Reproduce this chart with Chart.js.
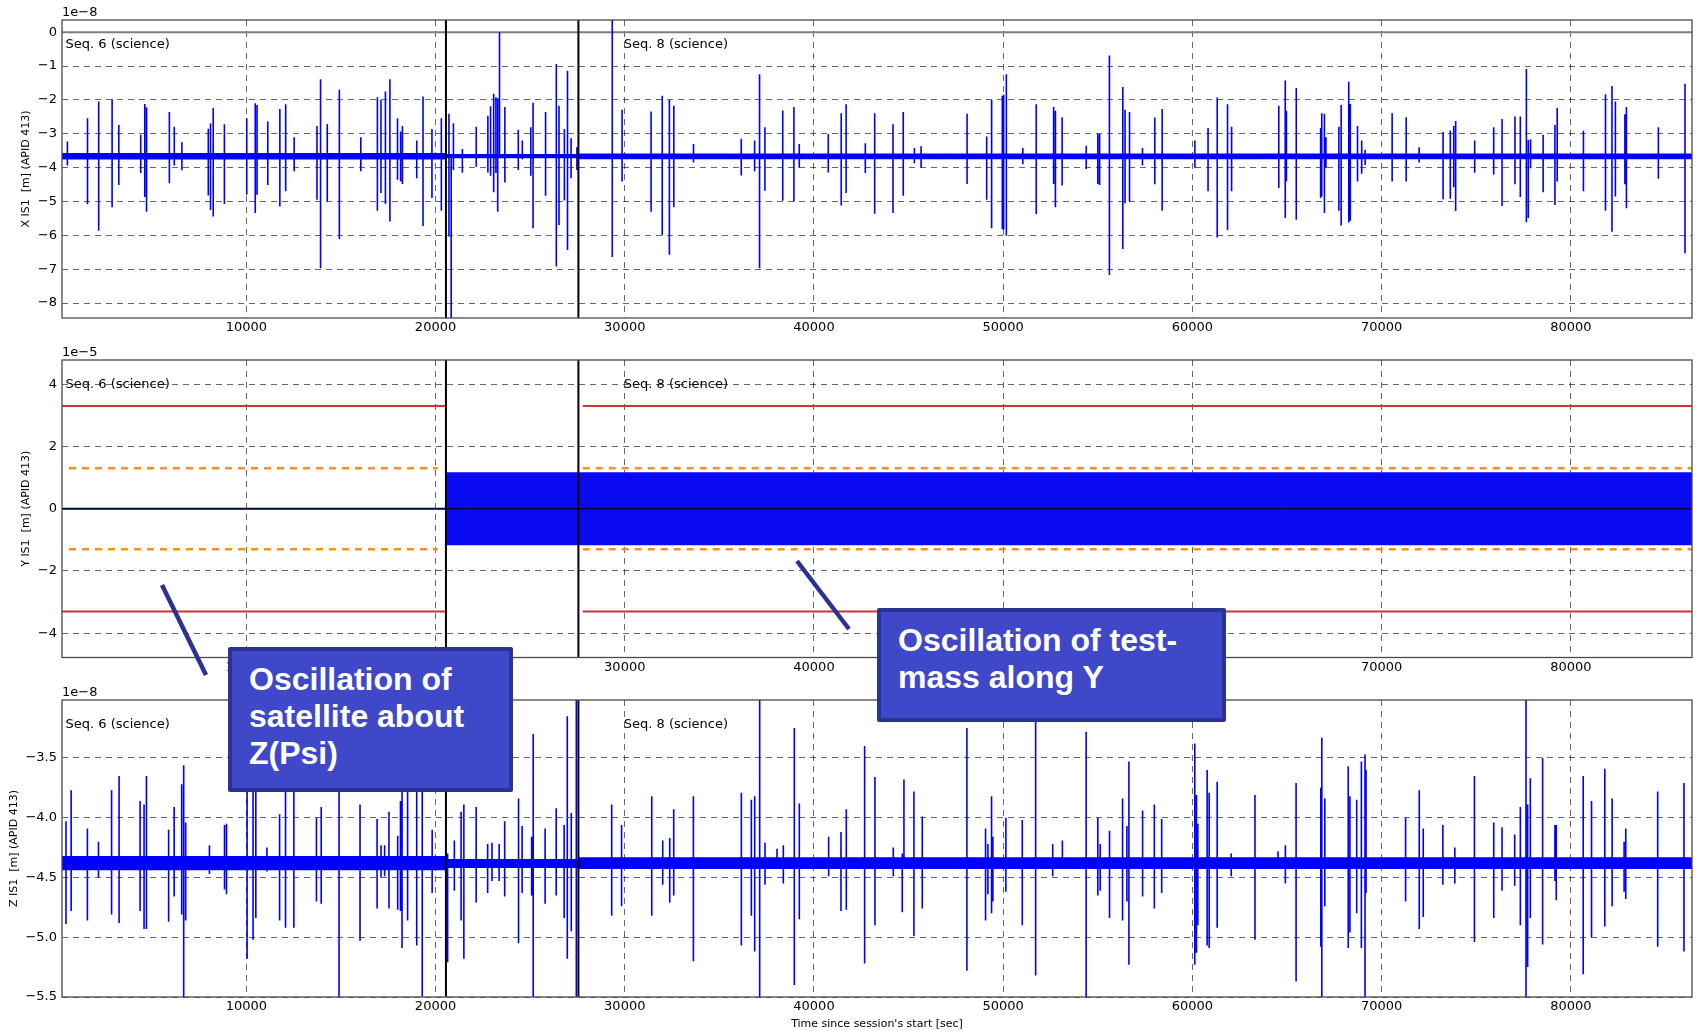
<!DOCTYPE html>
<html>
<head>
<meta charset="utf-8">
<title>IS1 position, sessions 6-8</title>
<script src="https://cdn.jsdelivr.net/npm/chart.js@4.4.1/dist/chart.umd.min.js"></script>
<style>
  body { margin: 0; background: #fff; width: 1697px; height: 1031px; position: relative; overflow: hidden; }
  .panel { position: absolute; left: 0; }
  .note {
    position: absolute; box-sizing: border-box;
    background: #3f48c8; border: 4px solid #2a3392; border-radius: 2px;
    color: #fff; font: bold 32px "Liberation Sans", Arial, sans-serif; line-height: 37px;
    padding: 10px 0 0 17px; white-space: nowrap;
  }
  svg { position: absolute; left: 0; top: 0; }
</style>
</head>
<body>
<canvas class="panel" id="chartX" width="1697" height="345" style="top:0"></canvas>
<canvas class="panel" id="chartY" width="1697" height="345" style="top:340px"></canvas>
<canvas class="panel" id="chartZ" width="1697" height="351" style="top:680px"></canvas>

<svg width="1697" height="1031">
  <line x1="162" y1="585" x2="206" y2="675" stroke="#2a3392" stroke-width="4.5"/>
  <line x1="797" y1="561" x2="849" y2="629" stroke="#2a3392" stroke-width="4.5"/>
</svg>
<div class="note" style="left:228px;top:647px;width:285px;height:145px">Oscillation of<br>satellite about<br>Z(Psi)</div>
<div class="note" style="left:877px;top:608px;width:349px;height:114px">Oscillation of test-<br>mass along Y</div>

<script>
// Eje de tiempo (segundos desde el inicio de la sesion)
const timeRange = [260, 86400];
const timeTicks = [10000, 20000, 30000, 40000, 50000, 60000, 70000, 80000];
// Lineas negras verticales (limites entre secuencias)
const seqBounds = [20550, 27550];
const seqLabelTime = [450, 29950];
const seqLabelText = ['Seq. 6 (science)', 'Seq. 8 (science)'];

// ---- X IS1, valores en unidades de 1e-8 m ----
const xRange = [-8.44, 0.36];
const xTicks = [-8, -7, -6, -5, -4, -3, -2, -1, 0];
const xTickLabels = ['\u22128', '\u22127', '\u22126', '\u22125', '\u22124', '\u22123', '\u22122', '\u22121', '0'];
const xBandStart = [260, 20550, 27550];
const xBandEnd = [20550, 27550, 86400];
const xBandHi = [-3.57, -3.60, -3.58];
const xBandLo = [-3.76, -3.72, -3.75];
const xSpikeT = [544, 1608, 2199, 2908, 3262, 4421, 4634, 4728, 5934, 6194, 6596, 7991, 8109, 8251, 8842,
  10024, 10473, 10567, 11135, 11773, 12080, 12530, 13735, 13924, 14279, 14917, 16052, 16927, 17116, 17352,
  17589, 17991, 18156, 18251, 19007, 19338, 19811, 20307, 20709, 20827, 20946, 21418, 22151, 22766, 22908,
  23073, 23191, 23286, 23381, 23664, 24374, 24586, 25035, 25154, 25816, 26383, 26525, 26809, 26974, 27163,
  27470, 29340, 29858, 31392, 31981, 32358, 32594, 33632, 36156, 36863, 37123, 37406, 38349, 38939, 39222,
  40755, 41439, 41698, 42712, 43208, 44175, 44717, 45307, 45660, 48090, 49127, 49387, 49953, 50024, 50165,
  51038, 51745, 52665, 52759, 53113, 54387, 55000, 55094, 55613, 56321, 56439, 56675, 57360, 58010, 58400,
  60130, 60825, 61310, 61855, 62070, 64563, 64905, 64965, 65487, 66774, 66834, 66975, 67055, 67739, 67859,
  68261, 68342, 68724, 68945, 69126, 70553, 71296, 71980, 73246, 73628, 73809, 73910, 74915, 75920, 76362,
  77045, 77327, 77648, 77749, 77869, 78533, 79156, 79276, 80663, 81829, 82171, 82352, 82854, 82935, 84623, 86030];
const xSpikeHi = [-3.23, -2.54, -2.05, -1.98, -2.74, -3.03, -2.12, -2.22, -2.36, -2.79, -3.25, -2.85, -2.70, -2.24, -2.72,
  -2.54, -2.10, -2.15, -2.64, -2.27, -2.13, -3.10, -2.77, -1.39, -2.71, -1.70, -3.10, -1.92, -2.00, -1.75,
  -1.39, -2.54, -2.93, -2.77, -3.20, -1.90, -2.86, -2.54, -2.41, -3.70, -2.69, -3.45, -2.79, -2.47, -2.19,
  -1.82, -1.92, -1.95, 0.00, -2.21, -2.88, -3.20, -2.81, -2.08, -2.36, -0.94, -2.17, -2.86, -1.14, -3.13,
  -3.40, 0.50, -2.29, -2.34, -1.88, -2.00, -2.17, -3.30, -3.15, -3.20, -1.24, -2.81, -2.31, -2.21, -3.30,
  -3.01, -2.39, -2.13, -3.28, -2.39, -2.72, -2.36, -3.42, -3.37, -2.41, -3.08, -2.00, -1.88, -1.85, -1.24,
  -3.42, -2.13, -2.21, -2.32, -2.51, -3.35, -3.01, -3.01, -0.69, -1.62, -2.29, -2.36, -3.42, -2.52, -2.27,
  -3.20, -2.83, -1.93, -2.13, -2.79, -2.17, -1.43, -2.32, -1.65, -2.83, -2.39, -2.41, -3.10, -2.79, -2.15,
  -1.46, -2.12, -2.77, -3.20, -3.47, -2.39, -2.51, -3.40, -2.95, -2.90, -2.77, -2.62, -3.20, -2.81, -2.56,
  -2.49, -2.49, -1.09, -3.18, -3.16, -3.03, -2.74, -2.24, -2.91, -1.83, -1.59, -2.05, -2.42, -2.21, -2.81, -1.52];
const xSpikeLo = [-3.94, -5.08, -5.86, -5.17, -4.51, -4.16, -4.87, -5.30, -4.46, -3.94, -4.08, -4.82, -5.25, -5.44, -5.07,
  -4.80, -5.34, -4.80, -4.51, -5.15, -4.70, -4.11, -4.95, -6.97, -5.00, -6.11, -4.11, -5.27, -4.75, -5.07,
  -5.59, -4.36, -4.41, -4.48, -4.31, -5.72, -4.90, -5.27, -6.03, -8.60, -4.07, -4.15, -3.97, -4.14, -4.24,
  -4.73, -4.16, -5.30, -3.70, -4.44, -4.07, -3.75, -4.24, -5.79, -4.83, -6.92, -5.69, -4.97, -6.43, -4.31,
  -4.07, -6.64, -4.41, -5.30, -6.00, -6.57, -5.17, -3.85, -4.23, -4.11, -6.97, -4.68, -4.98, -5.00, -4.00,
  -4.14, -5.12, -4.75, -4.16, -5.36, -5.34, -4.83, -3.87, -4.00, -4.48, -4.95, -5.79, -5.82, -5.83, -6.01,
  -3.90, -5.37, -4.48, -5.17, -4.53, -4.04, -4.48, -4.51, -7.17, -6.40, -5.05, -5.00, -3.94, -4.49, -5.27,
  -4.00, -4.70, -6.06, -5.84, -4.70, -4.60, -5.49, -4.41, -5.54, -4.90, -4.85, -5.34, -4.01, -5.27, -5.71,
  -5.62, -5.57, -4.41, -4.18, -3.92, -4.41, -4.41, -3.85, -4.93, -4.92, -4.58, -5.28, -4.15, -4.20, -5.13,
  -4.49, -4.87, -5.61, -5.49, -4.02, -4.73, -5.10, -4.41, -4.70, -5.27, -5.89, -4.85, -4.49, -5.20, -4.33, -6.53];

// ---- Y IS1, valores en unidades de 1e-5 m ----
const yRange = [-4.78, 4.78];
const yTicks = [-4, -2, 0, 2, 4];
const yTickLabels = ['\u22124', '\u22122', '0', '2', '4'];
const yFlatTime = [260, 20550];
const yFlatValue = [0, 0];
const yOscTime = [20550, 86400];
const yOscHi = [1.17, 1.17];
const yOscLo = [-1.17, -1.17];
const redLimit = 3.3;
const redStart = [260, 27780];
const redEnd = [20540, 86400];
const orangeLimit = 1.3;
const orangeStart = [630, 27780];
const orangeEnd = [20110, 86400];

// ---- Z IS1, valores en unidades de 1e-8 m ----
const zRange = [-5.5, -3.015];
const zTicks = [-5.5, -5.0, -4.5, -4.0, -3.5];
const zTickLabels = ['\u22125.5', '\u22125.0', '\u22124.5', '\u22124.0', '\u22123.5'];
const zBandStart = [260, 20550, 27550];
const zBandEnd = [20550, 27550, 86400];
const zBandHi = [-4.32, -4.345, -4.33];
const zBandLo = [-4.44, -4.42, -4.43];
const zSpikeT = [471, 743, 1602, 2188, 2880, 3277, 4387, 4597, 4723, 5895, 6188, 6586, 6691, 6796, 8052, 8848, 8953,
  10042, 10356, 10503, 11089, 11759, 12073, 12513, 13707, 13958, 14901, 16010, 16911, 17120, 17309, 17539,
  18000, 18147, 18230, 18524, 19005, 19298, 19822, 20639, 20995, 21351, 21497, 22147, 22754, 22984, 23361,
  23654, 24387, 24576, 25079, 25162, 25791, 26377, 26796, 26963, 27173, 27440, 29309, 29832, 31426, 32007,
  32377, 32588, 33627, 36162, 36690, 36866, 37130, 37412, 38046, 38380, 38961, 39225, 40775, 41426, 41708,
  42676, 43222, 44190, 44665, 44754, 45282, 45722, 48081, 49067, 49190, 49384, 49454, 50141, 51007, 51714,
  52615, 53127, 54382, 55000, 55124, 55618, 56307, 56537, 56643, 57367, 57986, 58375, 60124, 60212, 60283,
  60777, 60883, 61307, 62049, 63304, 64523, 64912, 65477, 66784, 66837, 66996, 68233, 68322, 68682, 68928,
  69121, 69174, 71265, 71986, 72197, 73234, 73866, 74903, 75923, 76362, 77030, 77329, 77627, 77715, 77856,
  78506, 79156, 79227, 80650, 81090, 81793, 82179, 82812, 82900, 84587, 85975];
const zSpikeHi = [-4.03, -3.77, -4.09, -4.20, -3.77, -3.65, -3.86, -3.89, -3.65, -4.10, -3.91, -3.72, -3.56, -4.04, -4.23, -4.06, -4.05,
  -3.75, -3.60, -3.65, -4.25, -3.97, -3.70, -3.70, -4.00, -3.91, -3.70, -3.89, -4.01, -4.23, -4.23, -3.95,
  -4.15, -3.86, -3.70, -3.75, -3.60, -3.65, -4.10, -4.30, -4.19, -3.95, -3.89, -3.91, -4.22, -4.21, -4.22,
  -4.03, -3.84, -4.07, -4.16, -3.30, -4.09, -3.92, -4.06, -3.15, -3.96, -3.00, -3.89, -4.06, -3.82, -4.19,
  -4.17, -3.93, -3.82, -3.79, -3.85, -3.82, -3.00, -4.21, -4.26, -4.23, -3.25, -3.88, -4.16, -4.12, -3.93,
  -3.40, -3.66, -4.25, -4.30, -3.68, -3.78, -3.99, -3.25, -4.09, -4.22, -3.82, -4.16, -4.00, -4.02, -3.05,
  -4.22, -4.19, -3.28, -4.00, -4.22, -4.11, -3.84, -4.07, -3.53, -3.94, -3.89, -4.01, -3.38, -3.81, -4.05,
  -3.60, -3.79, -3.70, -4.30, -3.81, -4.28, -4.23, -3.71, -3.75, -3.33, -3.84, -3.57, -3.82, -3.85, -3.53,
  -3.47, -3.60, -4.00, -3.77, -4.09, -4.06, -4.25, -3.65, -4.04, -4.08, -4.14, -3.91, -3.00, -3.89, -3.67,
  -3.50, -4.06, -4.06, -3.65, -3.86, -3.59, -3.84, -4.20, -4.09, -3.78, -3.71];
const zSpikeLo = [-4.89, -4.78, -4.86, -4.50, -4.81, -4.88, -4.78, -4.93, -4.93, -4.87, -4.66, -4.81, -5.60, -4.86, -4.47, -4.60, -4.64,
  -5.18, -5.02, -4.84, -4.45, -4.86, -4.92, -4.92, -4.70, -4.72, -5.60, -5.03, -4.76, -4.50, -4.49, -4.76,
  -4.77, -4.78, -5.09, -4.86, -5.07, -5.60, -4.63, -5.21, -4.61, -4.86, -5.18, -4.71, -4.63, -4.53, -4.53,
  -4.66, -5.05, -4.63, -4.65, -5.60, -4.72, -4.65, -4.84, -5.18, -4.95, -5.60, -4.82, -4.74, -4.82, -4.56,
  -4.71, -4.65, -5.20, -5.07, -4.82, -5.12, -5.60, -4.56, -4.40, -4.55, -5.40, -4.85, -4.49, -4.78, -4.77,
  -5.22, -4.90, -4.49, -4.79, -4.42, -4.99, -4.76, -5.28, -4.86, -4.64, -4.80, -4.70, -4.62, -4.90, -5.32,
  -4.49, -4.42, -5.60, -4.65, -4.61, -4.84, -4.86, -4.70, -5.23, -4.66, -4.76, -4.63, -5.23, -5.13, -4.90,
  -5.07, -5.09, -4.92, -4.49, -5.02, -4.42, -4.55, -5.37, -5.08, -5.60, -4.74, -5.09, -4.96, -4.80, -5.09,
  -5.60, -4.63, -4.70, -4.93, -4.83, -4.56, -4.55, -5.04, -4.84, -4.61, -4.57, -4.90, -5.60, -5.25, -4.84,
  -5.06, -4.53, -4.69, -5.31, -5.00, -4.91, -4.74, -4.62, -4.68, -5.08, -5.12];

const tickFont = { family: 'DejaVu Sans', size: 13 };
const titleFont = { family: 'DejaVu Sans', size: 11 };
const gridColor = 'rgba(0,0,0,0.6)';

// Dataset de linea generico
function lineSet(points, color, width, order, extra) {
  return Object.assign({
    data: points, borderColor: color, borderWidth: width, pointRadius: 0,
    fill: false, tension: 0, spanGaps: false, clip: 0, order: order
  }, extra || {});
}

// Picos: cada uno es un segmento vertical separado por un hueco
function spikePoints(t, hi, lo) {
  const pts = [];
  t.forEach((x, i) => pts.push({ x: x, y: hi[i] }, { x: x, y: lo[i] }, { x: x, y: null }));
  return pts;
}

// Tramos horizontales a un valor dado
function stepPoints(starts, ends, values) {
  const pts = [];
  starts.forEach((s, i) => pts.push({ x: s, y: values[i] }, { x: ends[i], y: values[i] }));
  return pts;
}

function segmentPoints(starts, ends, value) {
  const pts = [];
  starts.forEach((s, i) => pts.push({ x: s, y: value }, { x: ends[i], y: value }, { x: ends[i], y: null }));
  return pts;
}

function boundPoints(range) {
  const pts = [];
  seqBounds.forEach(b => pts.push({ x: b, y: range[0] - 1 }, { x: b, y: range[1] + 1 }, { x: b, y: null }));
  return pts;
}

// Marco, texto de offset y etiquetas de secuencia
const panelDecor = {
  id: 'panelDecor',
  afterDatasetsDraw(chart, args, opts) {
    const { ctx, chartArea: a, scales } = chart;
    ctx.save();
    ctx.strokeStyle = '#4a4a4a';
    ctx.lineWidth = 1.3;
    ctx.strokeRect(a.left, a.top, a.right - a.left, a.bottom - a.top);
    ctx.fillStyle = '#000';
    ctx.font = '13px "DejaVu Sans"';
    ctx.textAlign = 'left';
    ctx.textBaseline = 'middle';
    ctx.fillText(opts.offset, a.left, a.top - 7.5);
    seqLabelTime.forEach((t, i) => {
      ctx.fillText(seqLabelText[i], scales.x.getPixelForValue(t), a.top + 24.5);
    });
    ctx.restore();
  }
};

function makePanel(canvasId, o) {
  return new Chart(document.getElementById(canvasId), {
    type: 'line',
    data: { datasets: o.datasets },
    plugins: [panelDecor],
    options: {
      responsive: false,
      animation: false,
      events: [],
      layout: { padding: { top: 20, right: 5, bottom: 0, left: 0 } },
      plugins: {
        legend: { display: false },
        tooltip: { enabled: false },
        panelDecor: { offset: o.offset }
      },
      scales: {
        x: {
          type: 'linear',
          min: timeRange[0],
          max: timeRange[1],
          afterBuildTicks: s => { s.ticks = timeTicks.map(v => ({ value: v })); },
          afterFit: s => { s.height = o.xHeight; },
          ticks: { font: tickFont, color: '#000', padding: 2, autoSkip: false, maxRotation: 0, callback: v => String(v) },
          grid: { color: gridColor, lineWidth: 1, drawTicks: false },
          border: { display: false, dash: [6, 5] },
          title: o.xTitle
            ? { display: true, text: o.xTitle, font: titleFont, color: '#000', padding: { top: 0, bottom: 0 } }
            : { display: false }
        },
        y: {
          type: 'linear',
          min: o.range[0],
          max: o.range[1],
          afterBuildTicks: s => { s.ticks = o.ticks.map(v => ({ value: v })); },
          afterFit: s => { s.width = 62; },
          ticks: { font: tickFont, color: '#000', padding: 5, autoSkip: false, callback: (v, i) => o.tickLabels[i] },
          grid: { color: gridColor, lineWidth: 1, drawTicks: false },
          border: { display: false, dash: [6, 5] },
          title: { display: true, text: o.yTitle, font: titleFont, color: '#000', padding: { top: o.titlePad, bottom: 0 } }
        }
      }
    }
  });
}

// Panel X
makePanel('chartX', {
  range: xRange, ticks: xTicks, tickLabels: xTickLabels, offset: '1e\u22128',
  yTitle: 'X IS1  [m] (APID 413)', titlePad: 20, xHeight: 27,
  datasets: [
    lineSet(boundPoints(xRange), '#000', 2, 1),
    lineSet(spikePoints(xSpikeT, xSpikeHi, xSpikeLo), '#0000ff', 1.6, 2),
    lineSet([{ x: timeRange[0], y: 0 }, { x: timeRange[1], y: 0 }], '#7d7d7d', 2, 3),
    lineSet(stepPoints(xBandStart, xBandEnd, xBandHi), '#0000ff', 0, 5),
    lineSet(stepPoints(xBandStart, xBandEnd, xBandLo), '#0000ff', 0, 5, { fill: '-1', backgroundColor: '#0000ff' })
  ]
});

// Panel Y
makePanel('chartY', {
  range: yRange, ticks: yTicks, tickLabels: yTickLabels, offset: '1e\u22125',
  yTitle: 'Y IS1  [m] (APID 413)', titlePad: 20, xHeight: 27.5,
  datasets: [
    lineSet(boundPoints(yRange), '#000', 2, 1),
    lineSet([{ x: timeRange[0], y: 0 }, { x: timeRange[1], y: 0 }], '#000', 1, 2),
    lineSet(segmentPoints(redStart, redEnd, redLimit), '#cc3333', 2, 3),
    lineSet(segmentPoints(redStart, redEnd, -redLimit), '#cc3333', 2, 3),
    lineSet(segmentPoints(orangeStart, orangeEnd, orangeLimit), '#ff9010', 2.5, 3, { borderDash: [7, 6] }),
    lineSet(segmentPoints(orangeStart, orangeEnd, -orangeLimit), '#ff9010', 2.5, 3, { borderDash: [7, 6] }),
    lineSet(yFlatTime.map((t, i) => ({ x: t, y: yFlatValue[i] })), '#0000ff', 2.2, 4),
    lineSet(yOscTime.map((t, i) => ({ x: t, y: yOscHi[i] })), '#0000ff', 0, 5),
    lineSet(yOscTime.map((t, i) => ({ x: t, y: yOscLo[i] })), '#0000ff', 0, 5, { fill: '-1', backgroundColor: '#0a0af2' })
  ]
});

// Panel Z
makePanel('chartZ', {
  range: zRange, ticks: zTicks, tickLabels: zTickLabels, offset: '1e\u22128',
  yTitle: 'Z IS1  [m] (APID 413)', titlePad: 8, xHeight: 34,
  xTitle: "Time since session's start [sec]",
  datasets: [
    lineSet(boundPoints(zRange), '#000', 2, 1),
    lineSet(spikePoints(zSpikeT, zSpikeHi, zSpikeLo), '#0000ff', 1.6, 2),
    lineSet(stepPoints(zBandStart, zBandEnd, zBandHi), '#0000ff', 0, 5),
    lineSet(stepPoints(zBandStart, zBandEnd, zBandLo), '#0000ff', 0, 5, { fill: '-1', backgroundColor: '#0000ff' })
  ]
});
</script>
</body>
</html>
